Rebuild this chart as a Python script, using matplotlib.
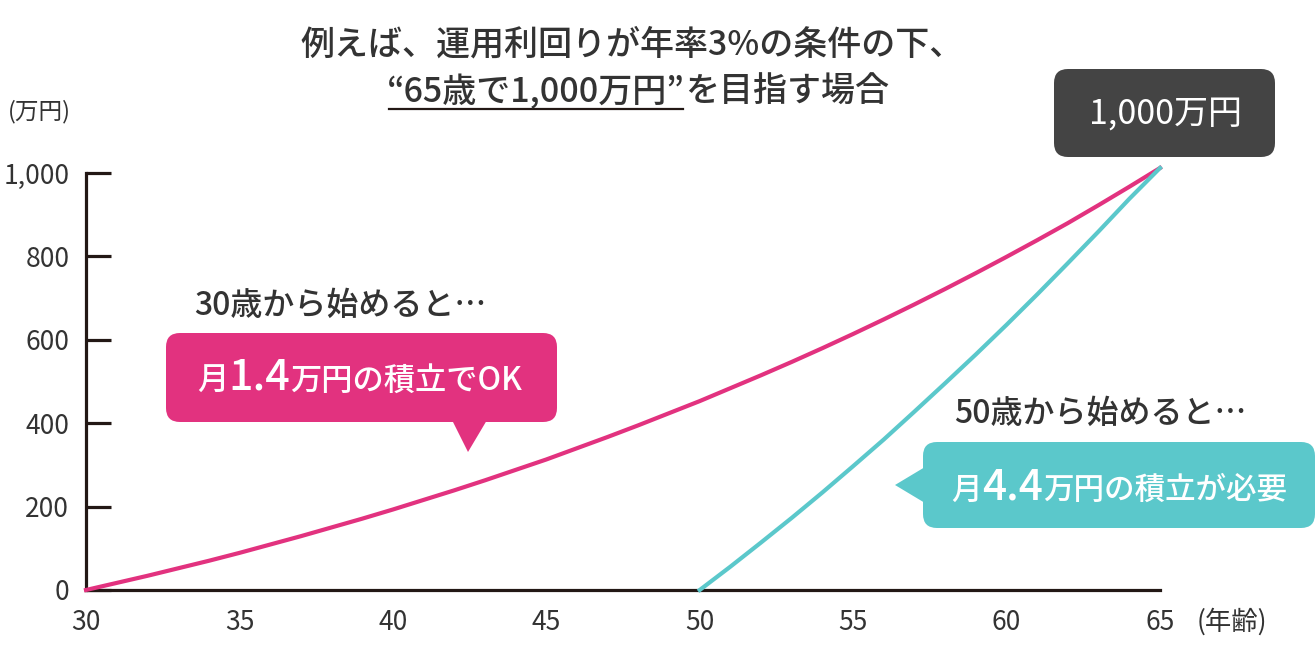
import matplotlib
matplotlib.use("Agg")
import matplotlib.pyplot as plt
from matplotlib.patches import FancyBboxPatch, Polygon

plt.rcParams['font.family'] = ['Noto Sans CJK JP', 'DejaVu Sans']

# values (万円 by age)
ages_30 = list(range(30, 66))
savings_30 = [0, 17, 34, 52, 70, 89, 109, 129, 150, 171, 193, 216, 239, 263, 288, 313,
              340, 367, 395, 424, 453, 484, 515, 547, 580, 614, 649, 685, 722, 760, 799,
              839, 880, 923, 967, 1012]
ages_50 = list(range(50, 66))
savings_50 = [0, 56, 114, 173, 234, 297, 361, 428, 496, 565, 636, 709, 784, 860, 938, 1012]

x_ticks = [30, 35, 40, 45, 50, 55, 60, 65]
y_ticks = [0, 200, 400, 600, 800, 1000]
y_tick_labels = ['0', '200', '400', '600', '800', '1,000']

PINK = '#E2327F'
CYAN = '#5BC8CB'
DARK = '#444444'
AXIS = '#231815'
TEXT = '#333333'

W, H = 1316, 658
fig = plt.figure(figsize=(W / 100, H / 100), dpi=100)
ax = fig.add_axes([86 / W, 68 / H, (1160 - 86) / W, 417 / H])

ax.plot(ages_30, savings_30, color=PINK, lw=3, clip_on=False, zorder=3)
ax.plot(ages_50, savings_50, color=CYAN, lw=3, clip_on=False, zorder=3)

ax.set_xlim(30, 65)
ax.set_ylim(0, 1000)
for s in ['top', 'right']:
    ax.spines[s].set_visible(False)
for s in ['left', 'bottom']:
    ax.spines[s].set_color(AXIS)
    ax.spines[s].set_linewidth(2.3)
ax.set_xticks(x_ticks)
ax.set_yticks(y_ticks, y_tick_labels)
ax.tick_params(axis='x', length=0, pad=14, labelsize=19, labelcolor=TEXT)
ax.tick_params(axis='y', direction='in', length=18, width=2.3, color=AXIS,
               pad=12, labelsize=19, labelcolor=TEXT)

# overlay in pixel coordinates for the title, boxes and labels
ov = fig.add_axes([0, 0, 1, 1], zorder=5)
ov.set_xlim(0, W)
ov.set_ylim(H, 0)
ov.axis('off')
ov.patch.set_alpha(0)

renderer = fig.canvas.get_renderer()


def put_runs(runs, x, y, center=True):
    texts = []
    for s, size, color, weight in runs:
        t = ov.text(0, y, s, fontsize=size, color=color, fontweight=weight,
                    va='baseline', ha='left')
        texts.append(t)
    widths = [t.get_window_extent(renderer).width for t in texts]
    start = x - sum(widths) / 2 if center else x
    spans = []
    for t, w in zip(texts, widths):
        t.set_x(start)
        spans.append((start, start + w))
        start += w
    return spans


# title
put_runs([('例えば、運用利回りが年率3%の条件の下、', 24.5, TEXT, 'medium')], 632, 54)
spans = put_runs([('“65歳で1,000万円”', 24.5, TEXT, 'medium'),
                  ('を目指す場合', 24.5, TEXT, 'medium')], 638, 102)
ov.plot([spans[0][0] + 2, spans[0][1] - 2], [109, 109], color=AXIS, lw=1.6)

# axis unit labels
ov.text(39, 112, '(万円)', fontsize=17, color=TEXT, ha='center', va='center')
ov.text(1197, 622, '(年齢)', fontsize=19, color=TEXT, ha='left', va='center')

# 1,000万円 box
ov.add_patch(FancyBboxPatch((1054, 69), 221, 88, boxstyle='round,pad=0,rounding_size=14',
                            fc=DARK, ec='none'))
ov.text(1165, 114, '1,000万円', fontsize=24.5, color='white', ha='center', va='center')

# 30歳 callout
put_runs([('30歳から始めると…', 23, TEXT, 'medium')], 340, 315)
ov.add_patch(FancyBboxPatch((166, 333), 391, 89, boxstyle='round,pad=0,rounding_size=14',
                            fc=PINK, ec='none'))
ov.add_patch(Polygon([(452, 420), (487, 420), (468, 452)], closed=True, fc=PINK, ec='none'))
put_runs([('月', 22.5, 'white', 'medium'), ('1.4', 31, 'white', 'medium'),
          ('万円の積立でOK', 22.5, 'white', 'medium')], 360, 390)

# 50歳 callout
put_runs([('50歳から始めると…', 23, TEXT, 'medium')], 1100, 423)
ov.add_patch(FancyBboxPatch((923, 442), 392, 86, boxstyle='round,pad=0,rounding_size=14',
                            fc=CYAN, ec='none'))
ov.add_patch(Polygon([(925, 467), (895, 485), (925, 503)], closed=True, fc=CYAN, ec='none'))
put_runs([('月', 22, 'white', 'medium'), ('4.4', 30.5, 'white', 'medium'),
          ('万円の積立が必要', 22, 'white', 'medium')], 1119, 499)

fig.savefig('out.png', dpi=100)
